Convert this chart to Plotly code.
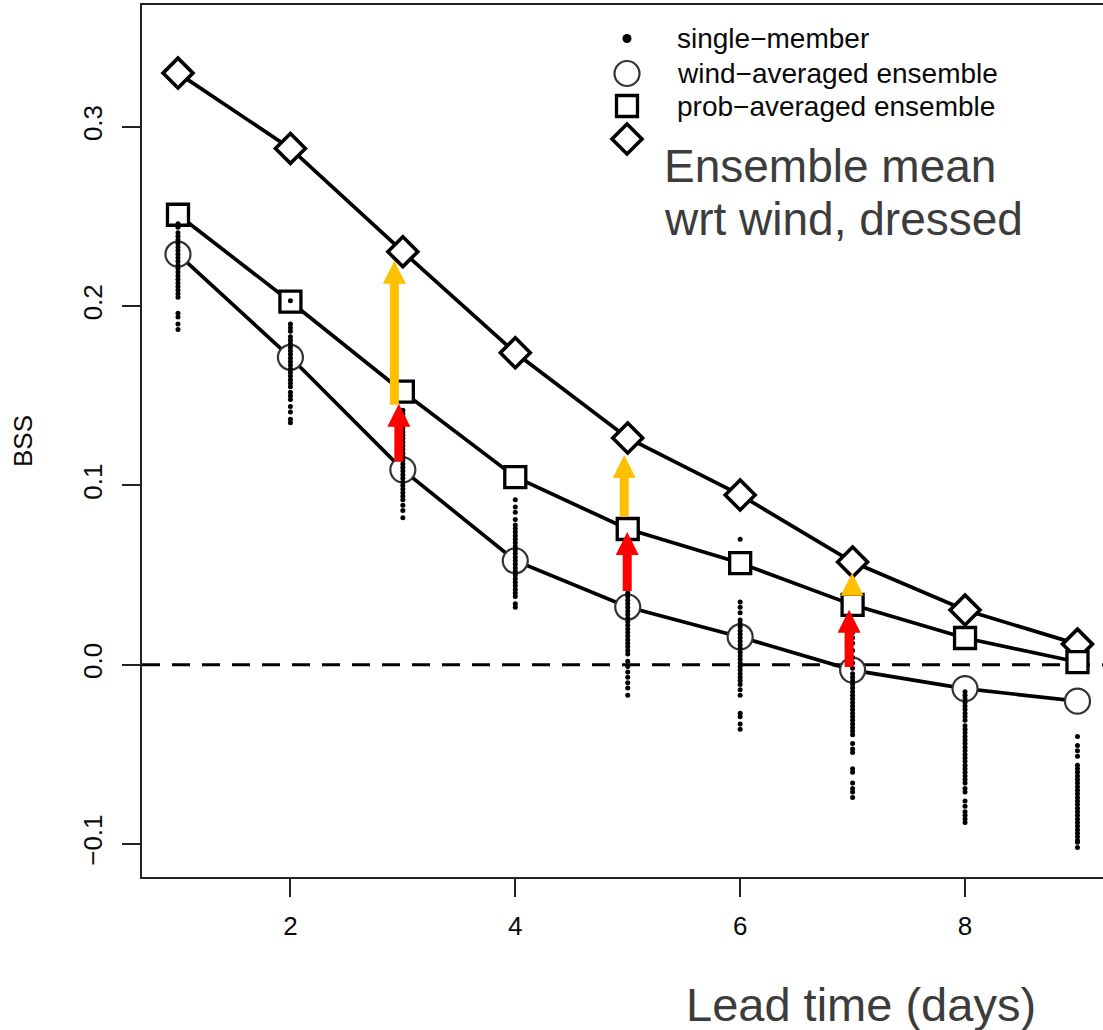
import plotly.graph_objects as go

# ---------------------------------------------------------------- data
lead_time = [1, 2, 3, 4, 5, 6, 7, 8, 9]

bss_wind_averaged = [0.229, 0.1715, 0.1087, 0.058, 0.0322, 0.0155, -0.003, -0.0133, -0.0203]
bss_prob_averaged = [0.251, 0.2025, 0.1523, 0.1047, 0.0757, 0.0567, 0.0334, 0.0149, 0.0015]
bss_mean_dressed = [0.330, 0.288, 0.2304, 0.174, 0.1265, 0.0947, 0.0573, 0.0305, 0.0115]

# single-member forecasts, one list per lead time (days 1..9)
member_day1 = [0.246, 0.244, 0.241, 0.239, 0.237, 0.235, 0.233, 0.231, 0.229, 0.227,
               0.225, 0.223, 0.221, 0.219, 0.217, 0.215, 0.213, 0.211, 0.209, 0.207,
               0.205, 0.196, 0.194, 0.190, 0.187]
member_day2 = [0.203, 0.190, 0.188, 0.186, 0.183, 0.181, 0.179, 0.177, 0.175, 0.173,
               0.171, 0.169, 0.167, 0.165, 0.163, 0.161, 0.159, 0.157, 0.155, 0.152,
               0.150, 0.148, 0.144, 0.141, 0.137, 0.135]
member_day3 = [0.142, 0.140, 0.138, 0.136, 0.134, 0.132, 0.130, 0.128, 0.126, 0.124,
               0.122, 0.120, 0.118, 0.116, 0.114, 0.112, 0.110, 0.108, 0.106, 0.104,
               0.102, 0.100, 0.098, 0.096, 0.094, 0.092, 0.089, 0.086, 0.082]
member_day4 = [0.092, 0.088, 0.085, 0.081, 0.078, 0.076, 0.074, 0.072, 0.070, 0.068,
               0.066, 0.064, 0.062, 0.060, 0.058, 0.056, 0.054, 0.052, 0.050, 0.048,
               0.046, 0.044, 0.042, 0.040, 0.038, 0.034, 0.032]
member_day5 = [0.054, 0.052, 0.050, 0.048, 0.046, 0.044, 0.042, 0.040, 0.038, 0.036,
               0.034, 0.032, 0.030, 0.028, 0.026, 0.024, 0.022, 0.020, 0.018, 0.016,
               0.014, 0.012, 0.010, 0.008, 0.006, 0.002, -0.001, -0.004, -0.007, -0.010,
               -0.013, -0.017]
member_day6 = [0.070, 0.035, 0.032, 0.029, 0.025, 0.023, 0.021, 0.019, 0.017, 0.015,
               0.013, 0.011, 0.009, 0.007, 0.005, 0.003, 0.001, -0.001, -0.003, -0.005,
               -0.007, -0.009, -0.011, -0.014, -0.017, -0.027, -0.029, -0.033, -0.036]
member_day7 = [0.018, 0.015, 0.012, 0.008, 0.004, 0.001, -0.002, -0.005, -0.007, -0.009,
               -0.011, -0.013, -0.015, -0.017, -0.019, -0.021, -0.023, -0.025, -0.027,
               -0.029, -0.031, -0.033, -0.035, -0.037, -0.039, -0.044, -0.047, -0.049,
               -0.058, -0.060, -0.066, -0.069, -0.071, -0.074]
member_day8 = [-0.015, -0.017, -0.019, -0.021, -0.023, -0.025, -0.027, -0.029, -0.031,
               -0.034, -0.036, -0.038, -0.040, -0.042, -0.044, -0.046, -0.048, -0.050,
               -0.052, -0.054, -0.056, -0.058, -0.060, -0.062, -0.064, -0.066, -0.069,
               -0.071, -0.076, -0.079, -0.082, -0.084, -0.086, -0.088]
member_day9 = [-0.040, -0.045, -0.048, -0.051, -0.056, -0.058, -0.060, -0.062, -0.064,
               -0.066, -0.068, -0.070, -0.072, -0.074, -0.076, -0.078, -0.080, -0.082,
               -0.084, -0.086, -0.088, -0.090, -0.092, -0.094, -0.096, -0.098, -0.099,
               -0.102]

x_tick_values = [2, 4, 6, 8]
y_tick_values = [-0.1, 0.0, 0.1, 0.2, 0.3]
y_tick_labels = ["\u22120.1", "0.0", "0.1", "0.2", "0.3"]

legend_labels = ["single\u2212member", "wind\u2212averaged ensemble", "prob\u2212averaged ensemble"]
note_lines = ["Ensemble mean", "wrt wind, dressed"]
x_title = "Lead time (days)"
y_title = "BSS"

# improvement arrows at selected lead times
arrow_days = [3, 5, 7]

# ---------------------------------------------------------------- layout geometry
W, H = 1103, 1030
ML, MR, MT, MB = 142, 0, 5, 153
PW, PH = W - ML - MR, H - MT - MB
X_RANGE = [0.68, 9.227]
Y_RANGE = [-0.1184, 0.368]
PX_PER_BSS = PH / (Y_RANGE[1] - Y_RANGE[0])

FONT = "Liberation Sans, Arial, Helvetica, sans-serif"
INK = "#0a0a0a"
NOTE_GREY = "#3c3c3c"


def paper_x(px):
    return (px - ML) / PW


def paper_y(py):
    return (MT + PH - py) / PH


members = [member_day1, member_day2, member_day3, member_day4, member_day5,
           member_day6, member_day7, member_day8, member_day9]
member_x, member_y = [], []
for day, vals in zip(lead_time, members):
    member_x += [day] * len(vals)
    member_y += vals

fig = go.Figure()

series = [
    (bss_mean_dressed, "diamond", 23, 3.6, "#000000"),
    (bss_prob_averaged, "square", 21, 3.3, "#000000"),
    (bss_wind_averaged, "circle", 25, 2.2, "#333333"),
]
for vals, symbol, size, lw, lc in series:
    fig.add_trace(go.Scatter(
        x=lead_time, y=vals, mode="lines+markers",
        line=dict(color="#000000", width=3.7),
        marker=dict(symbol=symbol, size=size, color="white",
                    line=dict(color=lc, width=lw)),
        showlegend=False, hoverinfo="skip",
    ))

fig.add_trace(go.Scatter(
    x=member_x, y=member_y, mode="markers",
    marker=dict(symbol="circle", size=5, color="#000000", line=dict(width=0)),
    showlegend=False, hoverinfo="skip",
))

shapes = []
# zero reference line
shapes.append(dict(type="line", xref="paper", x0=0, x1=1, yref="y", y0=0, y1=0,
                   line=dict(color="#000000", width=3, dash="18px,12px"), layer="below"))

# arrows: red from wind-averaged to prob-averaged, orange from prob-averaged to dressed mean
HEAD_LEN, HEAD_HALF, SHAFT_HALF = 23, 11.5, 4.5
arrow_sets = [
    ("#FF0000", bss_wind_averaged, bss_prob_averaged, [8, 16, 3], [12, 3, 5], [-4, -0.5, -3.5]),
    ("#FFC000", bss_prob_averaged, bss_mean_dressed, [-13, 12, 9], [9, 17, 11], [-8.5, -3.5, -0.5]),
]
for color, lower, upper, tail_gap, tip_gap, dx in arrow_sets:
    for k, day in enumerate(arrow_days):
        i = lead_time.index(day)
        span = (upper[i] - lower[i]) * PX_PER_BSS
        tip = -tip_gap[k]
        base = -(span - tail_gap[k])
        length = tip - base
        d = dx[k]
        if length <= HEAD_LEN:
            hh = HEAD_HALF * length / HEAD_LEN
            path = f"M {d - hh} {base} L {d + hh} {base} L {d} {tip} Z"
        else:
            hb = tip - HEAD_LEN
            path = (f"M {d - SHAFT_HALF} {base} L {d + SHAFT_HALF} {base} "
                    f"L {d + SHAFT_HALF} {hb} L {d + HEAD_HALF} {hb} L {d} {tip} "
                    f"L {d - HEAD_HALF} {hb} L {d - SHAFT_HALF} {hb} Z")
        shapes.append(dict(type="path", xref="x", yref="y",
                           xsizemode="pixel", ysizemode="pixel",
                           xanchor=day, yanchor=upper[i], path=path,
                           fillcolor=color, line=dict(width=0), layer="above"))

# legend keys
KEY_X = paper_x(627)
key_rows = [38.5, 73.5, 106, 139]
shapes.append(dict(type="circle", xref="paper", yref="paper", xsizemode="pixel", ysizemode="pixel",
                   xanchor=KEY_X, yanchor=paper_y(key_rows[0]), x0=-4.5, x1=4.5, y0=-4.5, y1=4.5,
                   fillcolor="#000000", line=dict(width=0)))
shapes.append(dict(type="circle", xref="paper", yref="paper", xsizemode="pixel", ysizemode="pixel",
                   xanchor=KEY_X, yanchor=paper_y(key_rows[1]), x0=-12.5, x1=12.5, y0=-12.5, y1=12.5,
                   line=dict(color="#333333", width=2.2)))
shapes.append(dict(type="rect", xref="paper", yref="paper", xsizemode="pixel", ysizemode="pixel",
                   xanchor=KEY_X, yanchor=paper_y(key_rows[2]), x0=-10.5, x1=10.5, y0=-10.5, y1=10.5,
                   line=dict(color="#000000", width=3.3)))
shapes.append(dict(type="path", xref="paper", yref="paper", xsizemode="pixel", ysizemode="pixel",
                   xanchor=KEY_X, yanchor=paper_y(key_rows[3]),
                   path="M 0 15 L 15 0 L 0 -15 L -15 0 Z",
                   line=dict(color="#000000", width=3.6)))

annotations = []
for label, row in zip(legend_labels, key_rows[:3]):
    annotations.append(dict(text=label, xref="paper", yref="paper", x=paper_x(675), y=paper_y(row),
                            xanchor="left", yanchor="middle", showarrow=False,
                            font=dict(family=FONT, size=28, color=INK)))
for line, cy in zip(note_lines, [166, 219]):
    annotations.append(dict(text=line, xref="paper", yref="paper", x=paper_x(662), y=paper_y(cy),
                            xanchor="left", yanchor="middle", showarrow=False,
                            font=dict(family=FONT, size=46, color=NOTE_GREY)))
annotations.append(dict(text=x_title, xref="paper", yref="paper", x=paper_x(861), y=paper_y(1004),
                        xanchor="center", yanchor="middle", showarrow=False,
                        font=dict(family=FONT, size=47, color=NOTE_GREY)))
annotations.append(dict(text=y_title, xref="paper", yref="paper", x=paper_x(23), y=0.5,
                        xanchor="center", yanchor="middle", showarrow=False, textangle=-90,
                        font=dict(family=FONT, size=26, color=INK)))

axis_common = dict(showgrid=False, zeroline=False, showline=True, linecolor="#222222", linewidth=2,
                   ticks="outside", ticklen=18, tickwidth=2, tickcolor="#222222",
                   tickfont=dict(family=FONT, size=26, color=INK), automargin=False)

fig.update_layout(
    width=W, height=H, autosize=False,
    margin=dict(l=ML, r=MR, t=MT, b=MB, pad=0),
    paper_bgcolor="white", plot_bgcolor="white",
    showlegend=False,
    xaxis=dict(range=X_RANGE, tickmode="array", tickvals=x_tick_values,
               ticktext=[str(v) for v in x_tick_values], mirror=True,
               ticklabelstandoff=7, **axis_common),
    yaxis=dict(range=Y_RANGE, tickmode="array", tickvals=y_tick_values, ticktext=y_tick_labels,
               tickangle=-90, mirror=False, ticklabelstandoff=10, **axis_common),
    shapes=shapes,
    annotations=annotations,
)

fig.write_html("out.html")
